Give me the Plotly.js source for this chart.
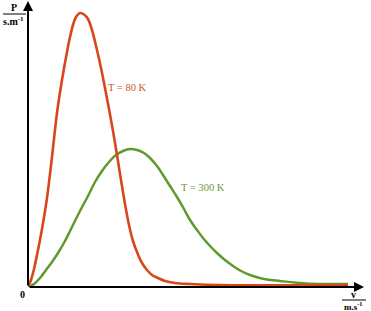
<!DOCTYPE html>
<html><head><meta charset="utf-8">
<script src="https://cdn.plot.ly/plotly-3.0.1.min.js"></script>
<style>html,body{margin:0;padding:0;background:#fff;}#c{width:371px;height:311px;}</style>
</head><body><div id="c"></div>
<script>
// Speed v (arbitrary units) and probability P (arbitrary units)
var redV  = [0, 3, 6, 9, 14, 19, 24, 29, 34, 39, 42, 45, 48, 52, 56, 60, 64, 69, 73, 77, 81, 85, 89, 93, 97, 101, 105, 109, 114, 119, 124, 130, 137, 147, 162, 192, 320];
var redP  = [0, 7, 18, 32, 58, 89, 130, 174, 207, 235, 250, 262, 270, 274, 272.5, 268, 257, 237, 219, 199, 178, 156, 132, 107, 83, 62, 46, 35, 24, 17, 12, 9, 6, 4, 3, 2, 2];
var greenV = [0, 6, 12, 18, 24, 30, 37, 44, 52, 60, 67, 74, 81, 88, 95, 102, 109, 116, 122, 129, 135, 142, 149, 156, 162, 169, 175, 182, 189, 197, 205, 213, 222, 230, 239, 252, 272, 292, 320];
var greenP = [0, 3, 9, 17, 25, 34, 46, 60, 76, 91, 105, 116, 125, 132, 136, 138, 137, 134, 129, 121, 112, 101, 90, 78, 67, 57, 49, 41, 34, 27, 21, 16, 12, 9.5, 7.5, 6, 4, 3, 3];
var redLabel = "T = 80 K";
var greenLabel = "T = 300 K";

var W = 338, H = 287;
function px(x){ return (x-28)/W; }
function py(y){ return (287-y)/H; }
var serif = "Liberation Serif, Times New Roman, serif";

var traces = [
  {x: greenV, y: greenP, mode: 'lines', line: {color: '#5f9a2e', width: 2.5, shape: 'spline', smoothing: 1}, hoverinfo: 'skip'},
  {x: redV, y: redP, mode: 'lines', line: {color: '#d8461c', width: 2.6, shape: 'spline', smoothing: 1}, hoverinfo: 'skip'}
];

var layout = {
  width: 371, height: 311,
  margin: {l: 28, r: 5, t: 0, b: 24},
  paper_bgcolor: '#fff', plot_bgcolor: '#fff',
  showlegend: false,
  xaxis: {range: [0, W], visible: false, fixedrange: true},
  yaxis: {range: [0, H], visible: false, fixedrange: true},
  shapes: [
    {type: 'line', xref: 'paper', yref: 'paper', x0: px(3), x1: px(26), y0: py(14), y1: py(14), line: {color: '#000', width: 1}},
    {type: 'line', xref: 'paper', yref: 'paper', x0: px(342), x1: px(366), y0: py(300), y1: py(300), line: {color: '#000', width: 1}}
  ],
  annotations: [
    {x: 336, y: 0, ax: 0, ay: 0, xref: 'x', yref: 'y', axref: 'x', ayref: 'y', text: '', showarrow: true, arrowhead: 2, arrowsize: 1, arrowwidth: 2, arrowcolor: '#000'},
    {x: 0, y: 286, ax: 0, ay: 0, xref: 'x', yref: 'y', axref: 'x', ayref: 'y', text: '', showarrow: true, arrowhead: 2, arrowsize: 1, arrowwidth: 2, arrowcolor: '#000'},
    {xref: 'paper', yref: 'paper', x: px(14), y: py(8), text: '<b>P</b>', showarrow: false, font: {family: serif, size: 10, color: '#000'}, xanchor: 'center', yanchor: 'middle'},
    {xref: 'paper', yref: 'paper', x: px(14), y: py(21), text: '<b>s.m<sup>-1</sup></b>', showarrow: false, font: {family: serif, size: 10, color: '#000'}, xanchor: 'center', yanchor: 'middle'},
    {xref: 'paper', yref: 'paper', x: px(353), y: py(294), text: '<b>v</b>', showarrow: false, font: {family: serif, size: 10, color: '#000'}, xanchor: 'center', yanchor: 'middle'},
    {xref: 'paper', yref: 'paper', x: px(353), y: py(305.5), text: '<b>m.s<sup>-1</sup></b>', showarrow: false, font: {family: serif, size: 9, color: '#000'}, xanchor: 'center', yanchor: 'middle'},
    {xref: 'paper', yref: 'paper', x: px(22), y: py(294), text: '<b>0</b>', showarrow: false, font: {family: serif, size: 10, color: '#000'}, xanchor: 'center', yanchor: 'middle'},
    {xref: 'x', yref: 'y', x: 99, y: 200, text: redLabel, showarrow: false, font: {family: serif, size: 10.5, color: '#c8572c'}, xanchor: 'center', yanchor: 'middle'},
    {xref: 'x', yref: 'y', x: 175, y: 100, text: greenLabel, showarrow: false, font: {family: serif, size: 10.5, color: '#6a9a3c'}, xanchor: 'center', yanchor: 'middle'}
  ]
};
Plotly.newPlot('c', traces, layout, {staticPlot: true, displayModeBar: false});
</script></body></html>
